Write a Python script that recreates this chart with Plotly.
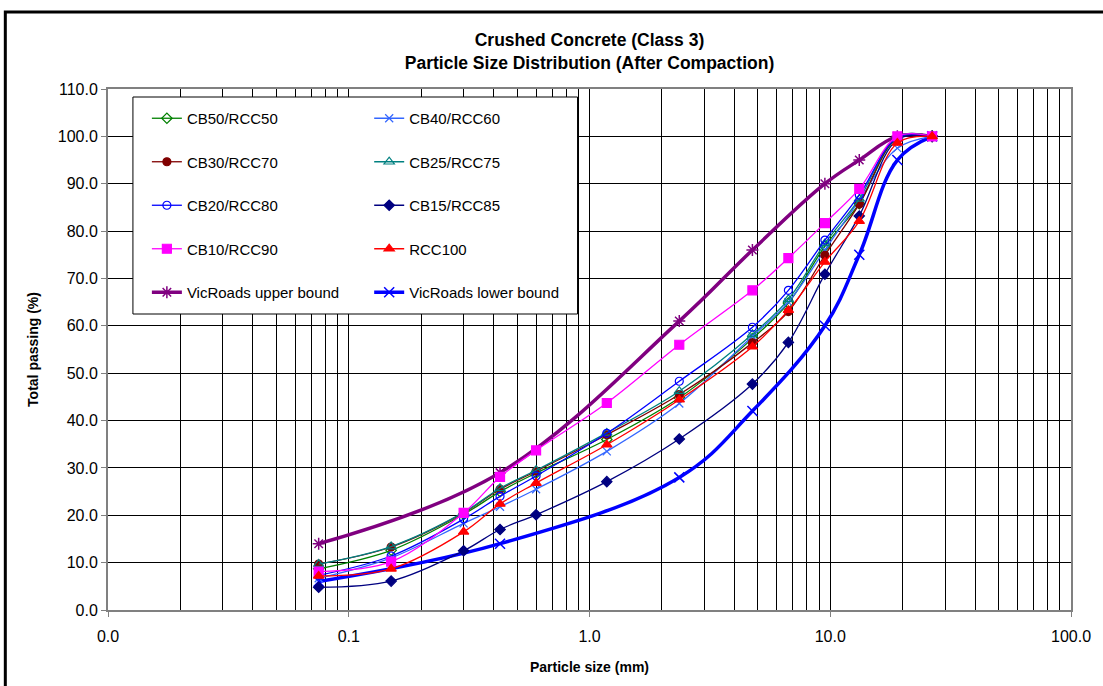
import plotly.graph_objects as go

sieve = [0.075, 0.15, 0.3, 0.425, 0.6, 1.18, 2.36, 4.75, 6.7, 9.5, 13.2, 19.0, 26.5]

cb50 = [8.7, 12.6, 20.2, 25.0, 28.9, 36.0, 44.8, 57.3, 64.8, 76.8, 85.8, 99.6, 100.0]
cb40 = [6.7, 11.0, 18.3, 21.8, 25.5, 33.5, 43.6, 57.8, 65.0, 76.0, 86.5, 97.5, 100.0]
cb30 = [9.7, 13.3, 20.5, 25.5, 29.3, 37.0, 45.5, 56.4, 63.0, 74.9, 85.7, 99.8, 100.0]
cb25 = [9.7, 13.4, 20.6, 25.7, 29.5, 37.4, 46.2, 58.2, 65.6, 77.4, 86.8, 100.0, 100.0]
cb20 = [7.3, 11.4, 19.2, 24.0, 28.3, 37.3, 48.3, 59.7, 67.5, 78.1, 87.6, 99.7, 100.0]
cb15 = [4.8, 6.1, 12.5, 17.0, 20.1, 27.1, 36.1, 47.7, 56.5, 70.9, 83.2, 99.3, 100.0]
cb10 = [8.1, 10.2, 20.5, 28.1, 33.7, 43.7, 56.0, 67.5, 74.3, 81.7, 88.9, 100.0, 100.0]
rcc100 = [7.2, 8.7, 16.5, 22.4, 26.8, 34.9, 44.4, 55.6, 63.3, 73.5, 82.1, 98.6, 100.0]

bound_sieve = [0.075, 0.425, 2.36, 4.75, 9.5, 13.2, 19.0, 26.5]
upper = [14, 29, 61, 76, 90, 95, 100, 100]
lower = [6, 14, 28, 42, 60, 75, 95, 100]

x_tickvals = [0.01, 0.1, 1, 10, 100]
x_ticktext = ["0.0", "0.1", "1.0", "10.0", "100.0"]
x_minor = [m * 10 ** e for e in range(-2, 2) for m in range(2, 10)]

FONT = "Liberation Sans, Arial, sans-serif"

fig = go.Figure()

# bounds (drawn first, below)
fig.add_trace(go.Scatter(x=bound_sieve, y=upper, name="VicRoads upper bound", mode="lines+markers",
                         line=dict(color="#800080", width=3.5, shape="spline", smoothing=1.1),
                         marker=dict(symbol="asterisk-open", size=10, color="#800080", line=dict(color="#800080", width=1.5)),
                         legend="legend", legendgroup="g9", legendrank=9))
fig.add_trace(go.Scatter(x=bound_sieve, y=lower, name="VicRoads lower bound", mode="lines+markers",
                         line=dict(color="#0000FF", width=3.5, shape="spline", smoothing=1.1),
                         marker=dict(symbol="x-thin-open", size=10, color="#0000FF", line=dict(color="#0000FF", width=1.5)),
                         legend="legend2", legendgroup="g10", legendrank=10))

series = [
    ("CB50/RCC50", cb50, "#008000", "diamond-open", "legend", 1, 8),
    ("CB40/RCC60", cb40, "#3366FF", "x-thin-open", "legend2", 2, 8),
    ("CB30/RCC70", cb30, "#800000", "circle", "legend", 3, 8),
    ("CB25/RCC75", cb25, "#008080", "triangle-up-open", "legend2", 4, 9),
    ("CB20/RCC80", cb20, "#0000FF", "circle-open", "legend", 5, 8),
    ("CB15/RCC85", cb15, "#000080", "diamond", "legend2", 6, 8),
    ("CB10/RCC90", cb10, "#FF00FF", "square", "legend", 7, 9),
    ("RCC100", rcc100, "#FF0000", "triangle-up", "legend2", 8, 9),
]
for name, vals, col, sym, leg, rank, msize in series:
    fig.add_trace(go.Scatter(x=sieve, y=vals, name=name, mode="lines+markers",
                             line=dict(color=col, width=1.3, shape="spline", smoothing=1),
                             marker=dict(symbol=sym, size=msize, color=col, line=dict(color=col, width=1.2)),
                             legend=leg, legendgroup="g%d" % rank, legendrank=rank))

W, H = 1103, 686
L, R, T, B = 108, 29, 89, 76
pw, ph = W - L - R, H - T - B

def px(xp):
    return (xp - L) / pw

def py(yp):
    return (H - B - yp) / ph

fig.update_layout(
    width=W, height=H,
    margin=dict(l=L, r=R, t=T, b=B),
    paper_bgcolor="white", plot_bgcolor="white",
    font=dict(family=FONT, color="black", size=15),
    title=dict(text="<b>Crushed Concrete (Class 3)<br>Particle Size Distribution (After Compaction)</b>",
               x=0.5, xref="paper", xanchor="center", y=1 - 46 / H, yanchor="middle",
               font=dict(size=17.5, family=FONT, color="black")),
    legend=dict(x=px(147), y=py(102), xanchor="left", yanchor="top", bgcolor="rgba(0,0,0,0)",
                borderwidth=0, tracegroupgap=21, font=dict(size=15, family=FONT)),
    legend2=dict(x=px(370), y=py(102), xanchor="left", yanchor="top", bgcolor="rgba(0,0,0,0)",
                 borderwidth=0, tracegroupgap=21, font=dict(size=15, family=FONT)),
    shapes=[
        dict(type="rect", xref="paper", yref="paper", x0=px(133), x1=px(579), y0=py(314), y1=py(97),
             fillcolor="white", line=dict(color="black", width=1), layer="above"),
        dict(type="rect", xref="paper", yref="paper", x0=px(5), x1=px(1140), y0=py(720), y1=py(12),
             fillcolor="rgba(0,0,0,0)", line=dict(color="black", width=3), layer="above"),
    ],
)

fig.update_xaxes(type="log", range=[-2, 2], tickvals=x_tickvals, ticktext=x_ticktext,
                 ticks="outside", ticklen=5, tickcolor="#808080", ticklabelstandoff=6,
                 showgrid=True, gridcolor="black", gridwidth=1,
                 minor=dict(tickvals=x_minor, showgrid=True, gridcolor="black", gridwidth=1, ticks=""),
                 showline=True, linecolor="#808080", linewidth=2, mirror=True,
                 tickfont=dict(size=16, family=FONT),
                 title=dict(text="<b>Particle size (mm)</b>", font=dict(size=14, family=FONT), standoff=18),
                 zeroline=False)
fig.update_yaxes(range=[0, 110], dtick=10, tickformat=".1f",
                 ticks="outside", ticklen=5, tickcolor="#808080",
                 showgrid=True, gridcolor="black", gridwidth=1,
                 showline=True, linecolor="#808080", linewidth=2, mirror=True,
                 tickfont=dict(size=16, family=FONT),
                 title=dict(text="<b>Total passing (%)</b>", font=dict(size=14, family=FONT), standoff=16),
                 zeroline=False)

fig.write_html("out.html")
